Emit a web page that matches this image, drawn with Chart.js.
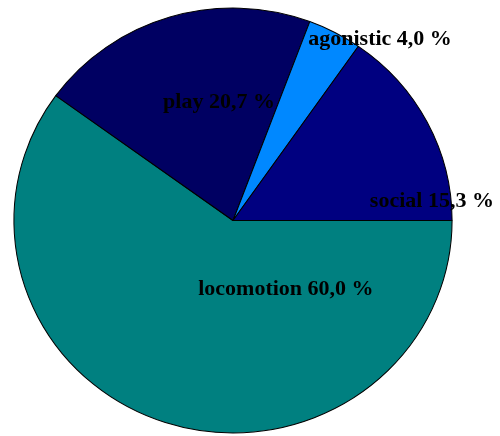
<!DOCTYPE html>
<html>
<head>
<meta charset="utf-8">
<script src="https://cdn.jsdelivr.net/npm/chart.js@4/dist/chart.umd.min.js"></script>
<style>
  html, body { margin: 0; padding: 0; background: #ffffff; }
  #wrap { width: 500px; height: 436px; }
</style>
</head>
<body>
<div id="wrap"><canvas id="pie" width="500" height="436"></canvas></div>
<script>
// Activity budget (percent of observed time)
const categories = ['locomotion', 'play', 'agonistic', 'social'];
const shares = [60.0, 20.7, 4.0, 15.3];
const valueLabels = ['60,0 %', '20,7 %', '4,0 %', '15,3 %'];

const sliceColors = ['#008080', '#000062', '#0088FF', '#000080'];

// Label anchor for each slice, as offsets from the pie centre in units of the radius
const labelOffsets = [
  [0.246, 0.318],  // locomotion
  [-0.065, -0.548], // play
  [0.684, -0.842],  // agonistic
  [0.925, -0.088]   // social
];

// The pie is drawn slightly wider than tall
const ellipse = { sx: 1.019, sy: 0.988 };

const stretchPie = {
  id: 'stretchPie',
  beforeDatasetsDraw(chart) {
    const arc = chart.getDatasetMeta(0).data[0];
    const ctx = chart.ctx;
    ctx.save();
    ctx.translate(arc.x, arc.y);
    ctx.scale(ellipse.sx, ellipse.sy);
    ctx.translate(-arc.x, -arc.y);
  },
  afterDatasetsDraw(chart) {
    chart.ctx.restore();
  }
};

const sliceLabels = {
  id: 'sliceLabels',
  afterDatasetsDraw(chart) {
    const ctx = chart.ctx;
    const meta = chart.getDatasetMeta(0);
    ctx.save();
    ctx.font = 'bold 22px "Liberation Serif", "Times New Roman", serif';
    ctx.fillStyle = '#000000';
    ctx.textAlign = 'center';
    ctx.textBaseline = 'middle';
    meta.data.forEach((arc, i) => {
      const r = arc.outerRadius;
      const x = arc.x + labelOffsets[i][0] * r;
      const y = arc.y + labelOffsets[i][1] * r;
      ctx.fillText(categories[i] + ' ' + valueLabels[i], x, y);
    });
    ctx.restore();
  }
};

new Chart(document.getElementById('pie'), {
  type: 'pie',
  data: {
    labels: categories,
    datasets: [{
      data: shares,
      backgroundColor: sliceColors,
      borderColor: '#000000',
      borderWidth: 1
    }]
  },
  options: {
    responsive: false,
    animation: false,
    rotation: 90,
    layout: { padding: { left: 17, right: 51, top: 5, bottom: 0 } },
    plugins: {
      legend: { display: false },
      tooltip: { enabled: false }
    }
  },
  plugins: [stretchPie, sliceLabels]
});
</script>
</body>
</html>
